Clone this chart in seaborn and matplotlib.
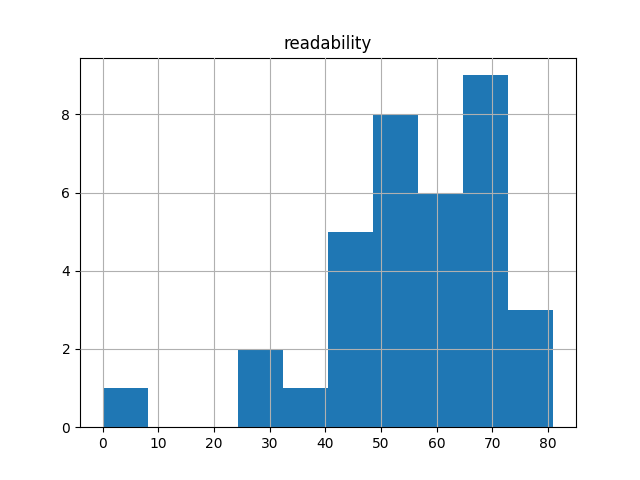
import matplotlib
matplotlib.use("Agg")
import matplotlib.pyplot as plt
import seaborn as sns
import pandas as pd

readability = [0.0,
               27.5, 30.1,
               36.2,
               42.0, 44.5, 45.8, 47.1, 48.0,
               49.5, 50.2, 51.8, 52.6, 53.4, 54.9, 55.5, 56.1,
               57.5, 58.9, 60.3, 61.7, 62.8, 64.0,
               65.2, 66.0, 66.8, 67.6, 68.3, 69.1, 70.0, 70.9, 72.1,
               74.5, 77.2, 81.0]
df = pd.DataFrame({"readability": readability})

plt.rcdefaults()
fig, ax = plt.subplots(figsize=(6.4, 4.8), dpi=100)
sns.histplot(data=df, x="readability", bins=10, ax=ax, color="#1f77b4",
             alpha=1, edgecolor="none", linewidth=0)
ax.grid(True, color="#b0b0b0", linewidth=0.8)
ax.set_axisbelow(False)
ax.set_title("readability")
ax.set_xlabel("")
ax.set_ylabel("")
fig.savefig("out.png", dpi=100)
